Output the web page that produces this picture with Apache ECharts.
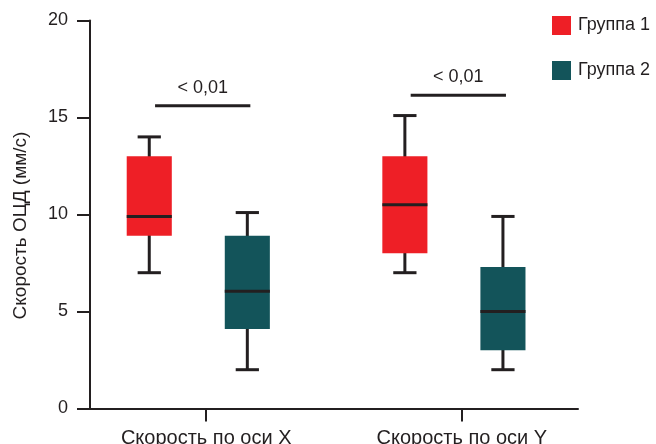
<!DOCTYPE html>
<html><head><meta charset="utf-8">
<script src="https://cdn.jsdelivr.net/npm/echarts@6/dist/echarts.min.js"></script>
<style>html,body{margin:0;padding:0;background:#fff}#c{width:656px;height:444px}</style>
</head><body><div id="c"></div>
<script>
const categories = ['Скорость по оси X', 'Скорость по оси Y'];
const seriesNames = ['Группа 1', 'Группа 2'];
// [min, Q1, median, Q3, max]
const group1 = [[7, 8.9, 9.9, 13, 14], [7, 8, 10.5, 13, 15.1]];
const group2 = [[2, 4.1, 6.05, 8.9, 10.1], [2, 3, 5, 7.3, 9.9]];
const pLabels = ['< 0,01', '< 0,01'];
const pLevels = [15.6, 16.15];
const yTicks = [0, 5, 10, 15, 20];

// layout (positions on the value-typed x axis)
const catPos = [5, 16];
const groupOffset = [-2.45, 1.77];
const sigSpan = [-2.2, 1.9];
const BOX_W = 1.94, CAP_W = 1.0;
const INK = '#231f20';
const FONT = 'Liberation Sans, Arial, Helvetica, sans-serif';
const FS = 18;
const colors = ['#ee1f26', '#13545a'];

function renderBox(params, api) {
  const x = api.value(0);
  const pLo = api.coord([x, api.value(1)]);
  const pQ1 = api.coord([x, api.value(2)]);
  const pMed = api.coord([x, api.value(3)]);
  const pQ3 = api.coord([x, api.value(4)]);
  const pHi = api.coord([x, api.value(5)]);
  const w = api.size([BOX_W, 0])[0];
  const cap = api.size([CAP_W, 0])[0];
  const cx = pLo[0];
  const ls = { stroke: INK, lineWidth: 3 };
  return { type: 'group', children: [
    { type: 'line', shape: { x1: cx, y1: pHi[1], x2: cx, y2: pLo[1] }, style: ls },
    { type: 'line', shape: { x1: cx - cap / 2, y1: pHi[1], x2: cx + cap / 2, y2: pHi[1] }, style: ls },
    { type: 'line', shape: { x1: cx - cap / 2, y1: pLo[1], x2: cx + cap / 2, y2: pLo[1] }, style: ls },
    { type: 'rect', shape: { x: cx - w / 2, y: pQ3[1], width: w, height: pQ1[1] - pQ3[1] }, style: { fill: api.visual('color') } },
    { type: 'line', shape: { x1: cx - w / 2, y1: pMed[1], x2: cx + w / 2, y2: pMed[1] }, style: ls }
  ]};
}

function renderSig(params, api) {
  const p1 = api.coord([api.value(0), api.value(2)]);
  const p2 = api.coord([api.value(1), api.value(2)]);
  const cx = (p1[0] + p2[0]) / 2;
  return { type: 'group', children: [
    { type: 'line', shape: { x1: p1[0], y1: p1[1], x2: p2[0], y2: p2[1] }, style: { stroke: INK, lineWidth: 3 } },
    { type: 'text', style: { text: pLabels[params.dataIndex], x: cx, y: p1[1] - 18, align: 'center', verticalAlign: 'middle', font: FS + 'px ' + FONT, fill: INK } }
  ]};
}

function boxData(vals, gi) {
  return vals.map((v, i) => [catPos[i] + groupOffset[gi]].concat(v));
}

const option = {
  animation: false,
  backgroundColor: '#fff',
  textStyle: { fontFamily: FONT },
  grid: { left: 90, right: 78, top: 20.5, bottom: 35.5, containLabel: false, outerBoundsMode: 'none' },
  legend: {
    data: seriesNames, orient: 'vertical', left: 552, top: 16, padding: 0,
    icon: 'rect', itemWidth: 19, itemHeight: 19, itemGap: 26,
    textStyle: { fontSize: FS, color: INK, fontFamily: FONT, padding: [0, 0, 0, 2] }
  },
  xAxis: {
    type: 'value', min: 0, max: 21,
    splitLine: { show: false },
    axisLine: { lineStyle: { color: INK, width: 2 } },
    axisTick: { customValues: catPos, length: 13, lineStyle: { color: INK, width: 2 } },
    axisLabel: { customValues: catPos, margin: 20, fontSize: 20, color: INK, fontFamily: FONT,
      formatter: v => categories[catPos.indexOf(v)] || '' }
  },
  yAxis: {
    type: 'value', min: 0, max: 20, interval: 5,
    name: 'Скорость ОЦД (мм/с)', nameLocation: 'middle', nameGap: 60,
    nameTextStyle: { fontSize: 19, color: INK, fontFamily: FONT, padding: [0, 22, 0, 0] },
    splitLine: { show: false },
    axisLine: { show: true, lineStyle: { color: INK, width: 2 } },
    axisTick: { show: true, length: 13, lineStyle: { color: INK, width: 2 } },
    axisLabel: { margin: 22, fontSize: FS, color: INK, fontFamily: FONT,
      formatter: v => yTicks.includes(v) ? String(v) : '' }
  },
  series: [
    { name: seriesNames[0], type: 'custom', renderItem: renderBox, itemStyle: { color: colors[0] },
      encode: { x: 0, y: [1, 2, 3, 4, 5] }, data: boxData(group1, 0) },
    { name: seriesNames[1], type: 'custom', renderItem: renderBox, itemStyle: { color: colors[1] },
      encode: { x: 0, y: [1, 2, 3, 4, 5] }, data: boxData(group2, 1) },
    { name: 'sig', type: 'custom', renderItem: renderSig, silent: true,
      encode: { x: [0, 1], y: 2 },
      data: pLevels.map((lv, i) => [catPos[i] + sigSpan[0], catPos[i] + sigSpan[1], lv]) }
  ]
};
echarts.init(document.getElementById('c')).setOption(option);
</script></body></html>
